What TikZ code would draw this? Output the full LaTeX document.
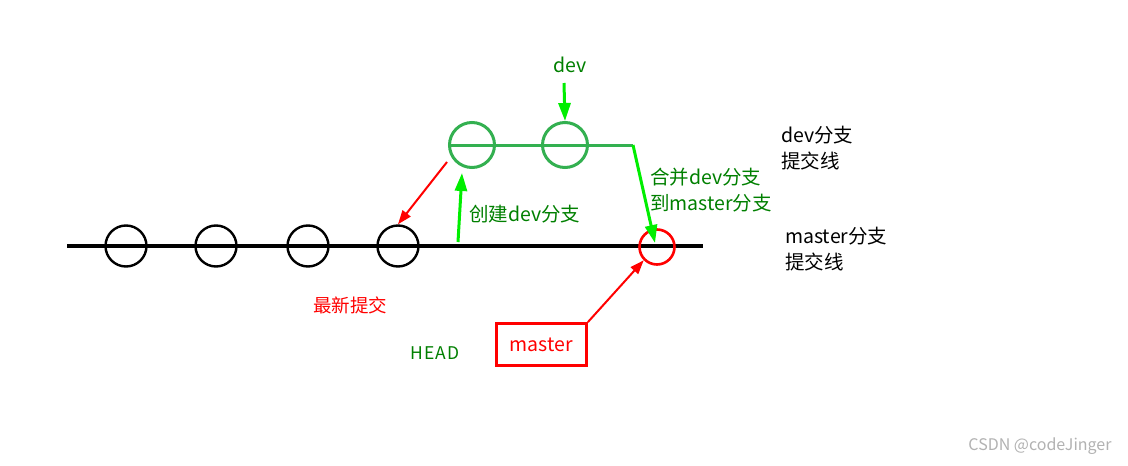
\documentclass[tikz,border=0pt]{standalone}
\usepackage{fontspec}
\setmainfont{Noto Sans CJK SC}
\usetikzlibrary{arrows.meta}
\definecolor{txtgreen}{HTML}{008000}
\definecolor{circgreen}{HTML}{33B050}
\definecolor{lime}{HTML}{00EE00}
\definecolor{myred}{HTML}{FF0000}
\tikzset{
  commit/.style={circle, draw=black, line width=2.4pt, minimum size=41pt, inner sep=0pt},
  devcommit/.style={circle, draw=circgreen, line width=3pt, minimum size=45pt, inner sep=0pt},
  newcommit/.style={circle, draw=myred, line width=2.6pt, minimum size=35pt, inner sep=0pt},
  lbl/.style={font=\fontsize{19.5}{26}\selectfont, inner sep=0pt, align=left},
  garrow/.style={draw=lime, fill=lime, line width=3pt, -{Triangle[length=18pt,width=12pt]}},
  rarrow/.style={draw=myred, fill=myred, line width=2pt, -{Triangle[length=14pt,width=10pt]}},
}
\begin{document}
\begin{tikzpicture}[x=1pt,y=-1pt]
\useasboundingbox[fill=white] (0,0) rectangle (1128,466);
% master line
\coordinate (mL) at (67,246);
\coordinate (mR) at (703,246);
\draw[line width=4pt] (mL) -- (mR);
\node[commit] (c1) at (126,246) {};
\node[commit] (c2) at (216,246) {};
\node[commit] (c3) at (308,246) {};
\node[commit] (c4) at (398,246) {};
\node[newcommit] (m1) at (657,247) {};
% dev line
\coordinate (dL) at (449,145);
\coordinate (dR) at (633,145);
\draw[circgreen, line width=3pt] (dL) -- (dR);
\node[devcommit] (d1) at (472,145) {};
\node[devcommit] (d2) at (565,145) {};
% labels
\node[lbl, text=txtgreen] (devlbl) at (570,65) {dev};
\node[lbl, text=txtgreen, anchor=west] (create) at (469,214) {创建dev分支};
\node[lbl, text=txtgreen, anchor=north west] (merge) at (650,168) {合并dev分支\\到master分支};
\node[lbl, anchor=north west] (devline) at (781,126) {dev分支\\提交线};
\node[lbl, anchor=north west] (masterline) at (785,227) {master分支\\提交线};
\node[lbl, text=myred, font=\fontsize{18.5}{24}\selectfont] (newest) at (350,305) {最新提交};
\node[lbl, text=txtgreen, font=\fontsize{17.5}{20}\selectfont\addfontfeature{LetterSpace=8}] (head) at (435,353) {HEAD};
\node[lbl, text=myred, draw=myred, line width=2.8pt, minimum width=90pt, minimum height=42pt] (mbox) at (541.5,344.5) {master};
\node[lbl, text=black!30, font=\fontsize{16}{18}\selectfont] (wm) at (1040,446) {CSDN @codeJinger};
% arrows
\coordinate (devtop) at (564,83);
\draw[garrow] (devtop) -- (d2.north);
\coordinate (crbot) at (458,242);
\draw[garrow] (crbot) -- (462,173);
\draw[rarrow] (447,162) -- (c4.north);
\draw[garrow] (dR) -- (655,243);
\draw[rarrow] (mbox.north east) -- (m1.south west);
\end{tikzpicture}
\end{document}
